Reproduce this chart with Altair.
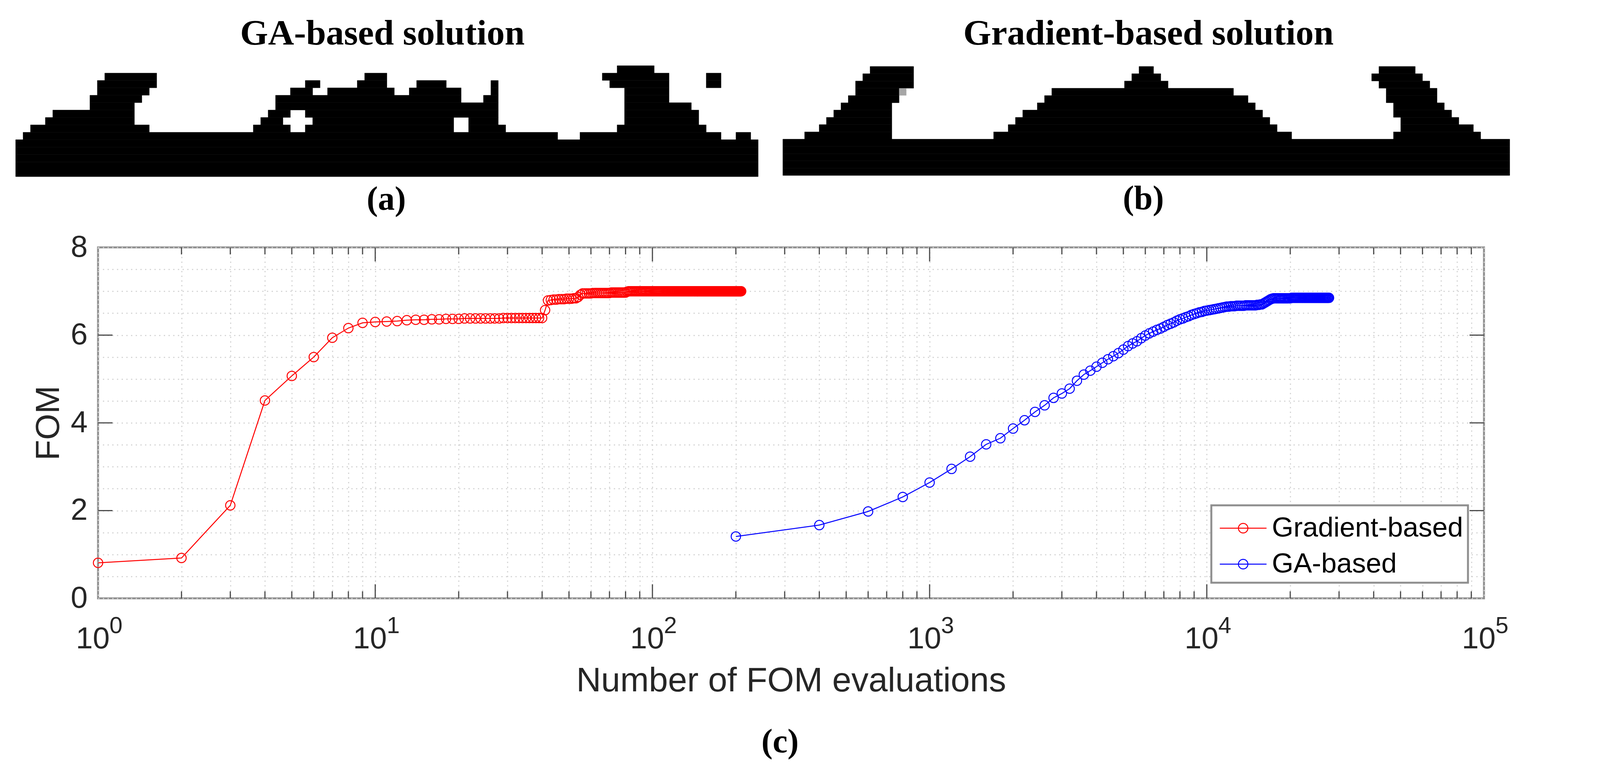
import altair as alt
import pandas as pd

# ---------- silhouette (a): [row, first column, end column] on a 100 x 15 grid
a_runs = [
    [15,81,86],
    [14,12,19],[14,47,50],[14,79,88],[14,93,95],
    [13,11,19],[13,39,41],[13,46,50],[13,54,58],[13,64,65],[13,80,88],[13,93,95],
    [12,11,18],[12,37,40],[12,42,51],[12,53,60],[12,64,65],[12,82,88],
    [11,10,17],[11,35,60],[11,63,65],[11,82,88],
    [10,10,16],[10,35,65],[10,82,91],
    [9,5,16],[9,34,37],[9,39,65],[9,82,92],
    [8,4,16],[8,33,36],[8,40,59],[8,61,65],[8,82,92],
    [7,2,18],[7,32,37],[7,39,59],[7,61,66],[7,81,93],
    [6,1,73],[6,76,95],[6,97,99],
    [5,0,100],[4,0,100],[3,0,100],[2,0,100],[1,0,100],
]
# ---------- silhouette (b)
b_runs = [
    [15,12,18],[15,49,51],[15,82,87],
    [14,11,18],[14,48,52],[14,81,88],
    [13,10,18],[13,47,53],[13,82,89],
    [12,10,16],[12,37,62],[12,83,90],
    [11,9,16],[11,36,64],[11,83,90],
    [10,8,15],[10,35,65],[10,84,91],
    [9,7,15],[9,33,66],[9,84,92],
    [8,6,15],[8,32,67],[8,85,93],
    [7,5,15],[7,31,68],[7,85,95],
    [6,3,15],[6,29,70],[6,84,96],
    [5,0,100],[4,0,100],[3,0,100],[2,0,100],[1,0,100],
]
b_gray_cell = [[12,16,17]]

# ---------- convergence curves
grad_fom = [
    0.81,0.92,2.12,4.51,5.07,5.50,5.94,6.16,6.28,6.30,
    6.31,6.32,6.34,6.35,6.35,6.36,6.36,6.37,6.37,6.37,
    6.38,6.38,6.38,6.38,6.38,6.38,6.38,6.38,6.39,6.39,
    6.39,6.39,6.39,6.39,6.39,6.39,6.39,6.39,6.39,6.39,
    6.57,6.79,6.80,6.81,6.81,6.82,6.82,6.82,6.83,6.83,
    6.83,6.84,6.84,6.87,6.92,6.95,6.95,6.95,6.95,6.95,
    6.96,6.96,6.96,6.96,6.96,6.96,6.96,6.96,6.96,6.96,
    6.97,6.97,6.97,6.97,6.97,6.97,6.97,6.97,6.97,6.97,
    6.99,7.00,7.00,7.00,7.00,7.00,7.00,7.00,7.00,7.00,
    7.00,7.00,7.00,7.00,7.00,7.00,7.00,7.00,7.00,7.00,
    7.00,7.00,7.00,7.00,7.00,7.00,7.00,7.00,7.00,7.00,
    7.00,7.00,7.00,7.00,7.00,7.00,7.00,7.00,7.00,7.00,
    7.00,7.00,7.00,7.00,7.00,7.00,7.00,7.00,7.00,7.00,
    7.00,7.00,7.00,7.00,7.00,7.00,7.00,7.00,7.00,7.00,
    7.00,7.00,7.00,7.00,7.00,7.00,7.00,7.00,7.00,7.00,
    7.00,7.00,7.00,7.00,7.00,7.00,7.00,7.00,7.00,7.00,
    7.00,7.00,7.00,7.00,7.00,7.00,7.00,7.00,7.00,7.00,
    7.00,7.00,7.00,7.00,7.00,7.00,7.00,7.00,7.00,7.00,
    7.00,7.00,7.00,7.00,7.00,7.00,7.00,7.00,7.00,7.00,
    7.00,7.00,7.00,7.00,7.00,7.00,7.00,7.00,7.00,7.00,
    7.00,7.00,7.00,7.00,7.00,7.00,7.00,7.00,7.00,
]
grad_evals = list(range(1, len(grad_fom) + 1))

ga_fom = [
    1.41,1.67,1.98,2.31,2.64,2.95,3.23,3.51,3.65,3.87,
    4.06,4.25,4.40,4.57,4.67,4.78,4.96,5.10,5.19,5.28,
    5.37,5.45,5.52,5.59,5.67,5.75,5.81,5.86,5.93,5.99,
    6.04,6.08,6.12,6.15,6.19,6.23,6.26,6.29,6.33,6.36,
    6.38,6.41,6.43,6.46,6.48,6.50,6.52,6.53,6.55,6.56,
    6.57,6.58,6.59,6.60,6.61,6.62,6.63,6.64,6.65,6.65,
    6.66,6.66,6.66,6.67,6.67,6.67,6.67,6.67,6.68,6.68,
    6.68,6.68,6.68,6.68,6.68,6.69,6.69,6.70,6.70,6.72,
    6.74,6.76,6.78,6.80,6.82,6.83,6.84,6.84,6.84,6.84,
    6.84,6.84,6.84,6.84,6.84,6.84,6.84,6.84,6.84,6.84,
    6.85,6.85,6.85,6.85,6.85,6.85,6.85,6.85,6.85,6.85,
    6.85,6.85,6.85,6.85,6.85,6.85,6.85,6.85,6.85,6.85,
    6.85,6.85,6.85,6.85,6.85,6.85,6.85,6.85,6.85,6.85,
    6.85,6.85,6.85,6.85,6.85,6.85,6.85,6.85,
]
ga_evals = [200 * (i + 1) for i in range(len(ga_fom))]

series_names = ["Gradient-based", "GA-based"]
series_colors = ["#ff0000", "#0000ff"]

decades = [1, 10, 100, 1000, 10000, 100000]
exponents = ["0", "1", "2", "3", "4", "5"]
minors = [2,3,4,5,6,7,8,9, 20,30,40,50,60,70,80,90, 200,300,400,500,600,700,800,900,
          2000,3000,4000,5000,6000,7000,8000,9000, 20000,30000,40000,50000,60000,70000,80000,90000]
y_grid = [0,0.5,1,1.5,2,2.5,3,3.5,4,4.5,5,5.5,6,6.5,7,7.5,8]
y_major = [2,4,6]

# ---------- layout constants (pixels relative to the main plot area)
PW, PH = 3548, 898
INK = "#262626"
FRAME = "#8f8f8f"
TICK = "#4d4d4d"
SERIF = "Liberation Serif"
SANS = "Liberation Sans"

xs = alt.Scale(type="log", domain=[1, 100000], nice=False)
ys = alt.Scale(domain=[0, 8], nice=False)
cs = alt.Scale(domain=series_names, range=series_colors)

curves = pd.DataFrame({
    "evals": grad_evals + ga_evals,
    "fom": grad_fom + ga_fom,
    "series": [series_names[0]] * len(grad_evals) + [series_names[1]] * len(ga_evals),
})

x_axis = alt.Axis(
    values=decades + minors, grid=True, gridColor="#d2d2d2", gridDash=[3, 9], gridWidth=3,
    ticks=False, domain=False, labelFont=SANS, labelFontSize=78, labelColor=INK,
    labelExpr='indexof([1,10,100,1000,10000,100000], datum.value) >= 0 ? "10" : ""',
    labelOverlap=False, labelFlush=False, labelBaseline="alphabetic", labelPadding=127,
    labelOffset=-14, title="Number of FOM evaluations", titleFont=SANS, titleFontSize=88,
    titleFontWeight="normal", titleColor=INK, titleBaseline="alphabetic", titleY=237,
)
y_axis = alt.Axis(
    values=y_grid, grid=True, gridColor="#d2d2d2", gridDash=[3, 9], gridWidth=3,
    ticks=False, domain=False, labelFont=SANS, labelFontSize=78, labelColor=INK,
    labelExpr='datum.value % 2 == 0 ? format(datum.value, "d") : ""', labelOverlap=False,
    labelFlush=False, labelPadding=27, title="FOM", titleFont=SANS, titleFontSize=86,
    titleFontWeight="normal", titleColor=INK, titleX=-101, titleY=PH / 2,
    titleBaseline="alphabetic",
)

legend = alt.Legend(
    orient="none", legendX=2850, legendY=660, title=None, padding=12,
    fillColor="#ffffff", strokeColor=FRAME, labelFont=SANS, labelFontSize=71,
    labelColor="#000000", labelLimit=800, labelOffset=27, symbolOffset=23,
    labelExpr="datum.label + '\u00a0\u00a0'",
    symbolType="M-1.33,0H1.33M0.27,0A0.27,0.27,0,1,1,-0.27,0A0.27,0.27,0,1,1,0.27,0",
    symbolSize=8100, symbolStrokeWidth=2.5, rowPadding=10,
)

curve_line = alt.Chart(curves).mark_line(strokeWidth=2.5, clip=False).encode(
    x=alt.X("evals:Q", scale=xs, axis=x_axis),
    y=alt.Y("fom:Q", scale=ys, axis=y_axis),
    color=alt.Color("series:N", scale=cs, legend=legend, sort=series_names),
    detail="series:N",
)
curve_points = alt.Chart(curves).mark_point(filled=False, size=576, strokeWidth=2.5, shape="circle", opacity=1).encode(
    x=alt.X("evals:Q", scale=xs, axis=x_axis),
    y=alt.Y("fom:Q", scale=ys, axis=y_axis),
    color=alt.Color("series:N", scale=cs, legend=legend, sort=series_names),
)


def xrule(values, y0, y1):
    return alt.Chart(pd.DataFrame({"v": values})).mark_rule(color=TICK, strokeWidth=3).encode(
        x=alt.X("v:Q", scale=xs, axis=x_axis), y=alt.value(y0), y2=alt.value(y1))


def yrule(values, x0, x1):
    return alt.Chart(pd.DataFrame({"v": values})).mark_rule(color=TICK, strokeWidth=3).encode(
        y=alt.Y("v:Q", scale=ys, axis=y_axis), x=alt.value(x0), x2=alt.value(x1))


tick_layers = [
    xrule(minors, PH, PH - 18), xrule(minors, 0, 18),
    xrule(decades[1:-1], PH, PH - 36), xrule(decades[1:-1], 0, 36),
    yrule(y_major, 0, 37), yrule(y_major, PW, PW - 37),
]

exp_text = alt.Chart(pd.DataFrame({"v": decades, "e": exponents})).mark_text(
    font=SANS, fontSize=60, color=INK, align="center", baseline="alphabetic", dx=46, dy=89,
).encode(x=alt.X("v:Q", scale=xs, axis=x_axis), y=alt.value(PH), text="e:N")

main = alt.layer(curve_line, *tick_layers, curve_points, exp_text)


def silhouette(runs, x_range, y_range, extra=None):
    frame = pd.DataFrame(runs, columns=["row", "start", "end"])
    frame["row0"] = frame["row"] - 1
    sx = alt.Scale(domain=[0, 100], range=x_range, nice=False)
    sy = alt.Scale(domain=[0, 15], range=y_range, nice=False)
    layers = [alt.Chart(frame).mark_rect(color="#000000", stroke="#000000", strokeWidth=0.6).encode(
        x=alt.X("start:Q", scale=sx, axis=None), x2="end:Q",
        y=alt.Y("row0:Q", scale=sy, axis=None), y2="row:Q")]
    if extra:
        ex = pd.DataFrame(extra, columns=["row", "start", "end"])
        ex["row0"] = ex["row"] - 1
        layers.append(alt.Chart(ex).mark_rect(color="#a6a6a6").encode(
            x=alt.X("start:Q", scale=sx, axis=None), x2="end:Q",
            y=alt.Y("row0:Q", scale=sy, axis=None), y2="row:Q"))
    return alt.layer(*layers)


sil_a = silhouette(a_runs, [-211, 1690], [-181, -465])
sil_b = silhouette(b_runs, [1753, 3614], [-184, -463], b_gray_cell)


def label(text, px, py, size):
    return alt.Chart(pd.DataFrame({"t": [text]})).mark_text(
        font=SERIF, fontWeight="bold", fontSize=size, color="#000000",
        align="center", baseline="alphabetic",
    ).encode(x=alt.value(px - 251), y=alt.value(py - 633), text="t:N")


captions = [
    label("GA-based solution", 979, 114, 92),
    label("Gradient-based solution", 2940, 114, 92),
    label("(a)", 989, 537, 86),
    label("(b)", 2927, 535, 86),
    label("(c)", 1997, 1925, 86),
]

chart = alt.layer(main, sil_a, sil_b, *captions).resolve_scale(
    x="independent", y="independent"
).properties(
    width=PW, height=PH,
    padding={"left": 243, "top": 625, "right": 280, "bottom": 425},
    autosize=alt.AutoSizeParams(type="none"),
).configure_view(stroke=FRAME, strokeWidth=5).configure_legend(strokeWidth=5)

chart.save("out.html", embed_options={"renderer": "svg", "actions": False})
